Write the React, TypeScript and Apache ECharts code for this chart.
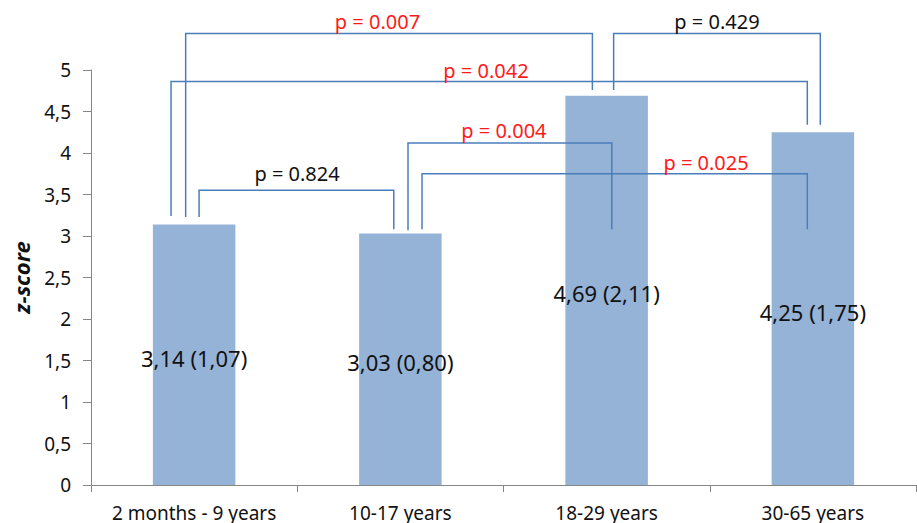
import React, { useEffect, useRef } from "react";
import * as echarts from "echarts";

const categories = ["2 months - 9 years", "10-17 years", "18-29 years", "30-65 years"];
const meanValues = [3.14, 3.03, 4.69, 4.25];
const sdValues = [1.07, 0.8, 2.11, 1.75];
const yTicks = { min: 0, max: 5, interval: 0.5 };

// Comparison brackets (positions in category units / z-score units)
const pValues = [0.007, 0.042, 0.429, 0.824, 0.004, 0.025];
const bracketLeft = [-0.041, -0.112, 2.034, 0.024, 1.037, 1.105];
const bracketRight = [1.931, 2.973, 3.036, 0.968, 2.025, 2.973];
const bracketHeight = [5.44, 4.86, 5.44, 3.55, 4.12, 3.75];
const bracketLegLeft = [3.23, 3.24, 4.76, 3.23, 3.07, 3.08];
const bracketLegRight = [4.76, 4.34, 4.34, 3.08, 3.08, 3.08];
const pLabelX = [0.889, 1.415, 2.535, 0.499, 1.502, 2.482];
const pLabelY = [5.59, 4.99, 5.59, 3.75, 4.27, 3.88];

const FONT = "'Noto Sans', sans-serif";
const fmt = (v: number) => v.toFixed(2).replace(".", ",");

export default function App() {
  const ref = useRef<HTMLDivElement>(null);
  useEffect(() => {
    if (!ref.current) return;
    const chart = echarts.init(ref.current, null, { renderer: "svg" });
    const bracketData = pValues.map((p, i) => [
      bracketLeft[i], bracketRight[i], bracketHeight[i], bracketLegLeft[i], bracketLegRight[i],
      pLabelX[i], pLabelY[i], p,
    ]);
    chart.setOption({
      animation: false,
      backgroundColor: "#ffffff",
      grid: { left: 91, right: 1, top: 70, bottom: 38, containLabel: false, outerBoundsMode: "none" },
      xAxis: [
        {
          type: "category",
          data: categories,
          axisLine: { onZero: false, lineStyle: { color: "#868686", width: 1 } },
          axisTick: { show: true, length: 7, lineStyle: { color: "#868686" } },
          axisLabel: { color: "#111", fontFamily: FONT, fontSize: 19, margin: 18, interval: 0 },
        },
        { type: "value", min: -0.5, max: 3.5, show: false },
      ],
      yAxis: {
        type: "value",
        min: yTicks.min,
        max: yTicks.max,
        interval: yTicks.interval,
        name: "z-score",
        nameLocation: "middle",
        nameGap: 59,
        nameTextStyle: { fontFamily: FONT, fontSize: 22, fontWeight: "bold", fontStyle: "italic", color: "#111" },
        splitLine: { show: false },
        axisLine: { show: true, onZero: false, lineStyle: { color: "#868686", width: 1 } },
        axisTick: { show: true, length: 8, lineStyle: { color: "#868686" } },
        axisLabel: {
          color: "#111",
          fontFamily: FONT,
          fontSize: 19,
          margin: 20,
          formatter: (v: number) => String(v).replace(".", ","),
        },
      },
      series: [
        {
          type: "bar",
          data: meanValues,
          barWidth: "40%",
          itemStyle: { color: "#95B3D7" },
          label: {
            show: true,
            position: "inside",
            offset: [0, 3],
            color: "#111",
            fontFamily: FONT,
            fontSize: 22,
            formatter: (p: any) => `${fmt(meanValues[p.dataIndex])} (${fmt(sdValues[p.dataIndex])})`,
          },
          z: 1,
        },
        {
          type: "custom",
          xAxisIndex: 1,
          clip: false,
          z: 5,
          data: bracketData,
          renderItem: (params: any, api: any) => {
            const x1 = api.value(0), x2 = api.value(1), h = api.value(2);
            const l1 = api.value(3), l2 = api.value(4);
            const lx = api.value(5), ly = api.value(6), p = api.value(7);
            const pts = [api.coord([x1, l1]), api.coord([x1, h]), api.coord([x2, h]), api.coord([x2, l2])];
            const tp = api.coord([lx, ly]);
            return {
              type: "group",
              children: [
                {
                  type: "polyline",
                  shape: { points: pts },
                  style: { stroke: "#4A7EBB", lineWidth: 1.5, fill: null },
                },
                {
                  type: "text",
                  x: tp[0],
                  y: tp[1],
                  style: {
                    text: `p = ${p.toFixed(3)}`,
                    fill: p < 0.05 ? "#FF1A1A" : "#111",
                    font: `20px ${FONT}`,
                    align: "center",
                    verticalAlign: "middle",
                  },
                },
              ],
            };
          },
        },
      ],
    });
    return () => chart.dispose();
  }, []);
  return <div ref={ref} style={{ position: "fixed", left: 0, top: 0, width: 917, height: 523 }} />;
}
